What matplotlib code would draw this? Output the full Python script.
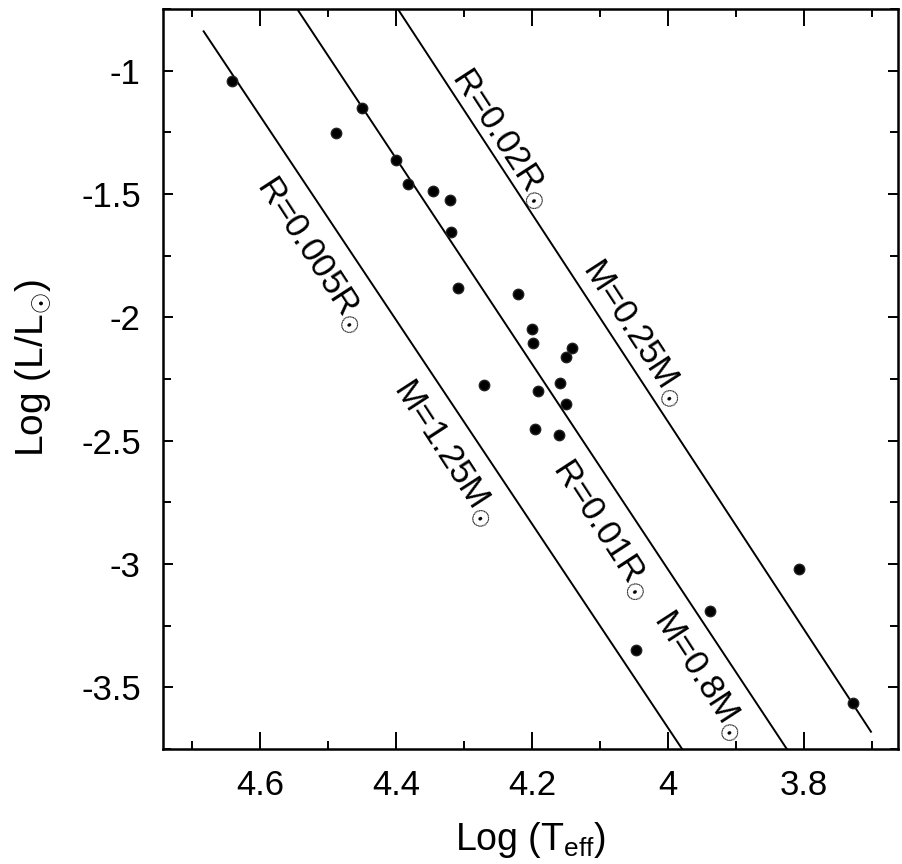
import matplotlib

matplotlib.use("Agg")
import matplotlib.pyplot as plt
from matplotlib.ticker import MultipleLocator, FormatStrFormatter

# %% Data
# observed white dwarfs: log Teff, log L/Lsun
log_teff = [4.641, 4.488, 4.450, 4.401, 4.382, 4.346, 4.321, 4.319, 4.309,
            4.221, 4.200, 4.199, 4.271, 4.191, 4.159, 4.141, 4.151, 4.150,
            4.196, 4.160, 4.047, 3.938, 3.807, 3.728]
log_lum = [-1.041, -1.252, -1.150, -1.362, -1.459, -1.488, -1.524, -1.654, -1.882,
           -1.907, -2.045, -2.102, -2.276, -2.297, -2.264, -2.126, -2.159, -2.350,
           -2.451, -2.476, -3.350, -3.191, -3.020, -3.565]

# constant radius lines (end points as drawn)
line_names = ["R=0.005", "R=0.01", "R=0.02"]
line_x0 = [4.684, 4.549, 4.399]
line_y0 = [-0.837, -0.736, -0.744]
line_x1 = [3.979, 3.825, 3.701]
line_y1 = [-3.752, -3.752, -3.683]

# labels on the lines
label_text = [r"R=0.005R$_{\odot}$", r"M=1.25M$_{\odot}$",
              r"R=0.01R$_{\odot}$", r"M=0.8M$_{\odot}$",
              r"R=0.02R$_{\odot}$", r"M=0.25M$_{\odot}$"]
label_x = [4.525, 4.329, 4.097, 3.954, 4.246, 4.051]
label_y = [-1.744, -2.549, -2.862, -3.451, -1.276, -2.061]

# %% Plot
plt.rcParams["font.family"] = ["Liberation Sans", "DejaVu Sans"]
plt.rcParams["mathtext.fontset"] = "custom"
plt.rcParams["mathtext.rm"] = "Liberation Sans"
plt.rcParams["mathtext.it"] = "Liberation Sans"
plt.rcParams["axes.unicode_minus"] = False

fig = plt.figure(figsize=(9.03, 8.64), dpi=100)
ax = fig.add_axes([0.1805, 0.133, 0.814, 0.8565])

for x0, y0, x1, y1 in zip(line_x0, line_y0, line_x1, line_y1):
    ax.plot([x0, x1], [y0, y1], color="black", linewidth=1.4, solid_capstyle="butt")

ax.plot(log_teff, log_lum, "o", color="black", markersize=7.5,
        markeredgecolor="#222222")

for s, x, y in zip(label_text, label_x, label_y):
    ax.text(x, y, s, fontsize=25, rotation=-57, rotation_mode="anchor",
            ha="center", va="center")

ax.set_xlim(4.743, 3.662)
ax.set_ylim(-3.75, -0.75)

ax.xaxis.set_major_locator(MultipleLocator(0.2))
ax.xaxis.set_minor_locator(MultipleLocator(0.1))
ax.xaxis.set_major_formatter(FormatStrFormatter("%g"))
ax.yaxis.set_major_locator(MultipleLocator(0.5))
ax.yaxis.set_minor_locator(MultipleLocator(0.25))
ax.yaxis.set_major_formatter(FormatStrFormatter("%g"))

ax.tick_params(axis="both", which="both", direction="in", top=True, right=True,
               width=1.4, labelsize=25, pad=14)
ax.tick_params(axis="x", which="major", length=12)
ax.tick_params(axis="x", which="minor", length=6)
ax.tick_params(axis="y", which="major", length=7, pad=16)
ax.tick_params(axis="y", which="minor", length=6)

for sp in ax.spines.values():
    sp.set_linewidth(1.8)

ax.set_xlabel(r"Log (T$_{\rm eff}$)", fontsize=27)
ax.set_ylabel(r"Log (L/L$_{\odot}$)", fontsize=28)
ax.xaxis.set_label_coords(0.5, -0.096)
ax.yaxis.set_label_coords(-0.15, 0.515)

plt.savefig("out.png", dpi=100)
plt.close()
